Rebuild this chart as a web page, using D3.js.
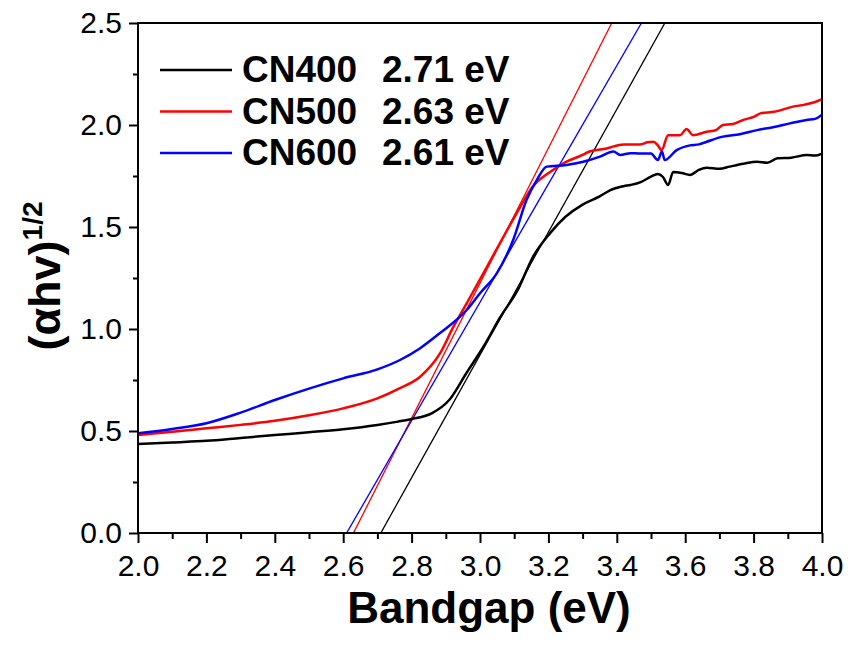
<!DOCTYPE html>
<html>
<head>
<meta charset="utf-8">
<script src="https://cdn.jsdelivr.net/npm/d3@7"></script>
<style>
  body { margin: 0; background: #fff; }
  text { font-family: "Liberation Sans", Arial, sans-serif; }
</style>
</head>
<body>
<div class="infographic"></div>
<script>
// values
var names = ["CN400", "CN500", "CN600"];
var gaps = [2.71, 2.63, 2.61];          // tangent intercepts at y = 0 (eV)
var slopes = [3.01, 3.31, 2.90];        // tangent slopes
var colors = ["#000000", "#ff0000", "#0000ff"];

var cn400 = [[2.00,0.436],[2.10,0.444],[2.20,0.452],[2.30,0.466],[2.40,0.480],[2.50,0.494],[2.60,0.508],
  [2.70,0.529],[2.76,0.546],[2.80,0.559],[2.86,0.588],[2.91,0.652],[2.96,0.783],[3.01,0.913],[3.06,1.06],
  [3.11,1.19],[3.155,1.354],[3.205,1.47],[3.25,1.55],[3.30,1.61],[3.35,1.65],[3.38,1.68],[3.42,1.70],
  [3.44,1.706],[3.47,1.72],[3.50,1.747],[3.52,1.76],[3.535,1.745],[3.55,1.706],[3.565,1.77],[3.59,1.765],
  [3.614,1.755],[3.64,1.78],[3.663,1.79],[3.70,1.785],[3.73,1.796],[3.77,1.81],[3.81,1.82],[3.84,1.815],
  [3.87,1.837],[3.91,1.84],[3.956,1.853],[3.98,1.85],[4.00,1.86]];

var cn500 = [[2.00,0.48],[2.10,0.496],[2.20,0.513],[2.30,0.53],[2.40,0.55],[2.50,0.577],[2.60,0.611],
  [2.70,0.66],[2.766,0.71],[2.825,0.766],[2.883,0.88],[2.922,1.01],[2.961,1.126],[3.009,1.27],[3.058,1.42],
  [3.107,1.567],[3.155,1.70],[3.205,1.77],[3.253,1.82],[3.30,1.853],[3.32,1.87],[3.37,1.885],[3.42,1.905],
  [3.468,1.905],[3.49,1.915],[3.507,1.918],[3.52,1.90],[3.531,1.877],[3.55,1.95],[3.585,1.95],[3.604,1.98],
  [3.623,1.95],[3.663,1.967],[3.69,1.975],[3.71,2.0],[3.74,2.005],[3.77,2.025],[3.80,2.04],[3.82,2.057],
  [3.86,2.065],[3.915,2.09],[3.95,2.10],[3.975,2.11],[4.00,2.127]];

var cn600 = [[2.00,0.489],[2.10,0.51],[2.20,0.538],[2.30,0.59],[2.40,0.652],[2.50,0.708],[2.60,0.758],
  [2.70,0.802],[2.766,0.848],[2.825,0.906],[2.883,0.98],[2.961,1.093],[3.00,1.175],[3.049,1.273],
  [3.097,1.436],[3.136,1.632],[3.166,1.73],[3.195,1.796],[3.253,1.804],[3.302,1.82],[3.351,1.845],
  [3.39,1.87],[3.41,1.853],[3.44,1.862],[3.468,1.86],[3.50,1.86],[3.52,1.828],[3.532,1.87],[3.54,1.828],
  [3.575,1.877],[3.614,1.90],[3.64,1.905],[3.663,1.918],[3.71,1.943],[3.76,1.955],[3.81,1.975],
  [3.86,1.99],[3.906,2.008],[3.955,2.025],[3.98,2.03],[4.00,2.05]];

var xMajor = [2.0,2.2,2.4,2.6,2.8,3.0,3.2,3.4,3.6,3.8,4.0];
var xMinor = [2.1,2.3,2.5,2.7,2.9,3.1,3.3,3.5,3.7,3.9];
var yMajor = [0.0,0.5,1.0,1.5,2.0,2.5];
var yMinor = [0.25,0.75,1.25,1.75,2.25];

var series = [cn400, cn500, cn600];

var margin = {top: 23, right: 26, bottom: 113, left: 138},
    width = 848 - margin.left - margin.right,
    height = 646 - margin.top - margin.bottom;

var svg = d3.select(".infographic")
    .append("svg")
    .attr("width", 848)
    .attr("height", 646);

var g = svg.append("g")
    .attr("transform", "translate(" + margin.left + "," + margin.top + ")");

var x = d3.scaleLinear().domain([2.0, 4.0]).range([0, width]);
var y = d3.scaleLinear().domain([0, 2.5]).range([height, 0]);

g.append("clipPath").attr("id", "plot-clip")
  .append("rect").attr("width", width).attr("height", height);

// axes: major + minor ticks outward
function styleAxis(sel) {
  sel.select(".domain").remove();
  sel.selectAll("line").attr("stroke", "#000").attr("stroke-width", 2);
}

g.append("g")
    .attr("transform", "translate(0," + height + ")")
    .call(d3.axisBottom(x).tickValues(xMinor).tickSize(6).tickFormat(""))
    .call(styleAxis);

g.append("g")
    .attr("transform", "translate(0," + height + ")")
    .call(d3.axisBottom(x).tickValues(xMajor).tickSize(10).tickPadding(12).tickFormat(d3.format(".1f")))
    .call(styleAxis)
    .selectAll("text")
      .attr("font-size", 30)
      .attr("fill", "#000");

g.append("g")
    .call(d3.axisLeft(y).tickValues(yMinor).tickSize(5).tickFormat(""))
    .call(styleAxis);

g.append("g")
    .call(d3.axisLeft(y).tickValues(yMajor).tickSize(9).tickPadding(7).tickFormat(d3.format(".1f")))
    .call(styleAxis)
    .selectAll("text")
      .attr("font-size", 30)
      .attr("fill", "#000");

// tangent lines (linear fits)
g.append("g")
    .attr("clip-path", "url(#plot-clip)")
  .selectAll("line")
    .data(gaps)
  .enter().append("line")
    .attr("x1", function(d) { return x(d); })
    .attr("y1", y(0))
    .attr("x2", function(d, i) { return x(d + 2.5 / slopes[i]); })
    .attr("y2", y(2.5))
    .attr("stroke", function(d, i) { return colors[i]; })
    .attr("stroke-width", 1.3);

var line = d3.line()
    .curve(d3.curveMonotoneX)
    .x(function(d) { return x(d[0]); })
    .y(function(d) { return y(d[1]); });

g.append("g")
    .attr("clip-path", "url(#plot-clip)")
  .selectAll("path")
    .data(series)
  .enter().append("path")
    .attr("d", line)
    .attr("fill", "none")
    .attr("stroke", function(d, i) { return colors[i]; })
    .attr("stroke-width", 2.5)
    .attr("stroke-linejoin", "round");

// frame
g.append("rect")
    .attr("width", width)
    .attr("height", height)
    .attr("fill", "none")
    .attr("stroke", "#000")
    .attr("stroke-width", 2);

// legend
var legend = g.append("g")
    .attr("transform", "translate(22,47)");

var rows = legend.selectAll("g")
    .data(names)
  .enter().append("g")
    .attr("transform", function(d, i) { return "translate(0," + (i * 41.5) + ")"; });

rows.append("line")
    .attr("x1", 0).attr("x2", 72)
    .attr("stroke", function(d, i) { return colors[i]; })
    .attr("stroke-width", 2.3);

rows.append("text")
    .attr("x", 82)
    .attr("y", 12)
    .attr("font-size", 37)
    .attr("font-weight", "bold")
    .text(function(d) { return d; });

rows.append("text")
    .attr("x", 222)
    .attr("y", 12)
    .attr("font-size", 37)
    .attr("font-weight", "bold")
    .text(function(d, i) { return gaps[i].toFixed(2) + " eV"; });

// axis titles
svg.append("text")
    .attr("x", 489)
    .attr("y", 623)
    .attr("text-anchor", "middle")
    .attr("font-size", 44)
    .attr("font-weight", "bold")
    .text("Bandgap (eV)");

var ylab = svg.append("text")
    .attr("transform", "translate(60,276) rotate(-90)")
    .attr("text-anchor", "middle")
    .attr("font-size", 45)
    .attr("font-weight", "bold");
ylab.append("tspan").text("(\u03b1hv)");
ylab.append("tspan")
    .attr("font-size", 28)
    .attr("dy", -18)
    .text("1/2");
</script>
</body>
</html>
